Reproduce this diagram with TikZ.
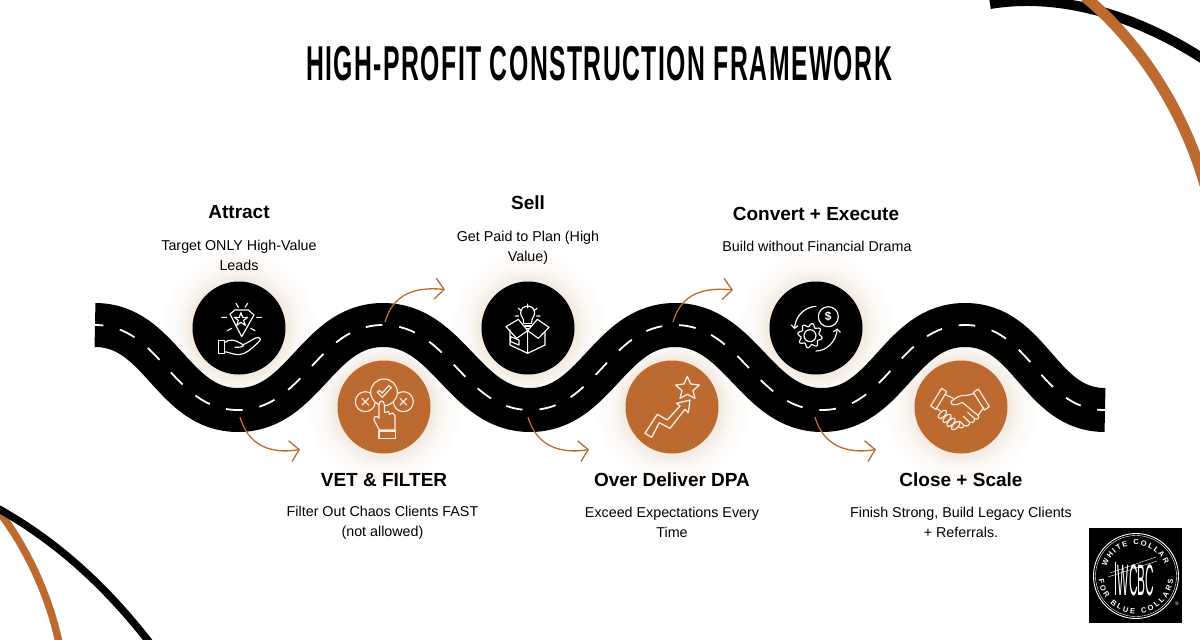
\documentclass[tikz,border=0pt]{standalone}
\usepackage{fontspec}
\setmainfont{Liberation Sans}
\newfontfamily\titlefont[FakeStretch=0.505,LetterSpace=3]{Liberation Sans Bold}
\newfontfamily\logofont[FakeStretch=0.27]{Liberation Sans}
\usetikzlibrary{arrows.meta,decorations.text}
\definecolor{copper}{HTML}{BD6A31}
\pgfdeclareradialshading{halo}{\pgfpointorigin}{rgb(0bp)=(0.955,0.915,0.875); rgb(14.5bp)=(0.955,0.915,0.875); rgb(18.5bp)=(0.985,0.97,0.955); rgb(25bp)=(1,1,1); rgb(50bp)=(1,1,1)}
\tikzset{
  x=1pt,y=-1pt,
  roadline/.style={line width=44pt,black},
  laneline/.style={line width=1.8pt,white,dash pattern=on 16.7pt off 17pt,dash phase=8.3pt},
  badge/.style={circle,minimum size=93pt,inner sep=0pt,fill=#1},
  bendarrow/.style={draw=copper,line width=1.3pt,-{Straight Barb[length=9pt,width=21pt,line width=1.3pt]}},
  ico/.style={draw=white,line width=1.15pt,line join=round,line cap=round},
  icoc/.style={draw=white!88!copper,line width=1.15pt,line join=round,line cap=round},
  headtext/.style={font=\fontsize{19}{20}\selectfont\bfseries,anchor=base},
  bodytext/.style={font=\fontsize{14.3}{20}\selectfont,align=center,anchor=center},
}
\newcommand{\halo}[2]{\shade[shading=halo] (#1,#2) circle (80);}
\begin{document}
\begin{tikzpicture}
\useasboundingbox (0,0) rectangle (1200,640);
\fill[white] (0,0) rectangle (1200,640);
\begin{scope}
\clip (0,0) rectangle (1200,640);
\draw[black,line width=10pt] (990,4) .. controls (1050,-6) and (1125,8) .. (1205,60);
\draw[copper,line width=11pt] (1085,-3) .. controls (1135,38) and (1182,105) .. (1205,185);
\draw[copper,line width=7.5pt] (-4,508) .. controls (22,540) and (48,590) .. (59,643);
\draw[black,line width=7.5pt] (-3,508) .. controls (55,540) and (105,585) .. (150,643);
\end{scope}

% halos
\halo{239}{328}\halo{384}{407}\halo{528}{328}\halo{672}{407}\halo{816}{328}\halo{961}{407}

% road
\def\roadpath{(95,325) .. controls (161,325) and (172,410) .. (238,410)
  .. controls (304,410) and (317,325) .. (383,325)
  .. controls (449,325) and (464,410) .. (530,410)
  .. controls (596,410) and (609,325) .. (675,325)
  .. controls (741,325) and (756,410) .. (822,410)
  .. controls (888,410) and (899,325) .. (965,325)
  .. controls (1031,325) and (1039,410) .. (1105,410)}
\draw[roadline] \roadpath;
\draw[laneline] \roadpath;

% badges
\node[badge=black] (b1) at (239,328) {};
\node[badge=copper] (c1) at (384,407) {};
\node[badge=black] (b2) at (528,328) {};
\node[badge=copper] (c2) at (672,407) {};
\node[badge=black] (b3) at (816,328) {};
\node[badge=copper] (c3) at (961,407) {};

% bends
\coordinate (a1s) at (240,417); \coordinate (a1e) at (300,449.5);
\coordinate (a2s) at (385,322); \coordinate (a2e) at (445,289.5);
\coordinate (a3s) at (528,417); \coordinate (a3e) at (589,449.5);
\coordinate (a4s) at (673,322); \coordinate (a4e) at (733,290);
\coordinate (a5s) at (815,417); \coordinate (a5e) at (876,449.5);
\draw[bendarrow] (a1s) .. controls +(8,28) and +(-30,5) .. (a1e);
\draw[bendarrow] (a2s) .. controls +(8,-28) and +(-30,-3) .. (a2e);
\draw[bendarrow] (a3s) .. controls +(8,28) and +(-30,5) .. (a3e);
\draw[bendarrow] (a4s) .. controls +(8,-28) and +(-30,-3) .. (a4e);
\draw[bendarrow] (a5s) .. controls +(8,28) and +(-30,5) .. (a5e);

% icon: diamond + hand
\begin{scope}[shift={(180,290)},x=0.3333pt,y=-0.3333pt]
\draw[ico] (150,72)--(165,60)--(205,60)--(222,75)--(185,140)--cycle;
\draw[ico] (183,68)--(188,82)--(203,82)--(191,91)--(196,106)--(183,97)--(170,106)--(175,91)--(163,82)--(178,82)--cycle;
\draw[ico] (168,40)--(175,52) (203,40)--(195,52) (125,82)--(140,82) (230,82)--(245,82) (142,122)--(155,115) (212,115)--(225,122);
\draw[ico] (115,152) rectangle (133,190);
\draw[ico] (133,158) .. controls (150,145) and (165,150) .. (182,160) .. controls (195,166) and (195,172) .. (165,172)
 (190,164) .. controls (210,155) and (225,142) .. (235,142) .. controls (243,142) and (243,150) .. (236,156) .. controls (215,175) and (200,192) .. (175,194) .. controls (160,194) and (145,186) .. (133,185);
\end{scope}

% icon: check + hand
\begin{scope}[shift={(350,375)},x=0.3333pt,y=-0.3333pt]
\draw[icoc] (46,80) circle (30) (160,80) circle (30);
\draw[icoc,fill=copper] (102,52) circle (40);
\draw[icoc] (36,70)--(56,90) (56,70)--(36,90) (150,70)--(170,90) (170,70)--(150,90);
\draw[icoc] (82,52)--(97,67)--(124,38)--(116,32)--(97,54)--(88,46)--cycle;
\draw[icoc,fill=copper] (87,90) .. controls (87,74) and (103,74) .. (103,90) -- (103,112) -- (116,110) -- (118,118) -- (128,114) -- (135,122) -- (135,165) -- (88,165) -- (72,135) .. controls (70,122) and (82,122) .. (87,130) -- cycle;
\draw[icoc] (87,168) rectangle (136,190);
\end{scope}

% icon: box + bulb
\begin{scope}[shift={(450,270)},x=0.3333pt,y=-0.3333pt]
\draw[ico] (221,158) .. controls (222,142) and (212,142) .. (212,128) .. controls (212,102) and (254,102) .. (254,128) .. controls (254,142) and (244,142) .. (245,158);
\draw[ico] (221,160)--(245,160) (224,168)--(242,168) (228,175)--(238,175);
\draw[ico] (233,102)--(233,114) (205,115)--(214,122) (261,115)--(252,122) (196,138)--(206,138) (260,138)--(270,138);
\draw[ico,fill=black] (168,170)--(205,148)--(233,182)--(200,205)--cycle;
\draw[ico,fill=black] (297,172)--(262,148)--(233,182)--(265,205)--cycle;
\draw[ico] (180,180)--(180,225)--(233,250)--(233,182) (233,250)--(285,225)--(285,185);
\draw[ico] (182,200)--(207,210)--(207,225)--(182,215)--cycle;
\end{scope}

% icon: arrow + star
\begin{scope}[shift={(450,270)},x=0.3333pt,y=-0.3333pt]
\draw[icoc,line width=1.3pt] (712,319)--(722,342)--(748,345)--(729,362)--(735,385)--(712,373)--(690,385)--(696,362)--(677,345)--(702,342)--cycle;
\draw[icoc,line width=1.3pt] (585,490)--(622,433)--(652,450)--(690,408)--(680,400)--(720,390)--(715,428)--(705,418)--(660,475)--(628,458)--(605,502)--cycle;
\end{scope}

% icon: gear + dollar
\begin{scope}[shift={(780,295)},x=0.3333pt,y=-0.3333pt]
\draw[ico] (145,65) circle (30);
\node[text=white,font=\fontsize{12}{12}\selectfont\bfseries] (dollar) at (145,65) {\$};
\draw[ico] plot[domain=0:360,samples=97,smooth] ({90+(32+5*sin(8*\x))*cos(\x)},{122+(32+5*sin(8*\x))*sin(\x)});
\draw[ico] (90,122) circle (18);
\draw[ico,-{Straight Barb[length=3pt,width=7pt]}] (108,34) .. controls (75,36) and (48,60) .. (43,102);
\draw[ico,-{Straight Barb[length=3pt,width=7pt]}] (108,168) .. controls (140,168) and (168,140) .. (172,100);
\end{scope}

% icon: handshake
\begin{scope}[shift={(925,375)},x=0.3333pt,y=-0.3333pt]
\draw[icoc] (50,40)--(65,50)--(33,103)--(17,93)--cycle;
\draw[icoc] (160,42)--(145,52)--(178,105)--(193,95)--cycle;
\draw[icoc] (60,58)--(84,70);
\draw[icoc] (148,56)--(120,62) .. controls (105,60) and (95,66) .. (78,80) .. controls (76,90) and (90,94) .. (112,82) -- (160,122) .. controls (165,130) and (155,136) .. (148,130) -- (128,112);
\draw[icoc] (176,98)--(160,120);
\draw[icoc] (148,130) .. controls (150,142) and (140,146) .. (134,142) -- (115,124);
\draw[icoc] (134,142) .. controls (134,152) and (124,156) .. (118,152) -- (103,138);
\draw[icoc] (118,152) .. controls (115,160) and (108,160) .. (100,155);
\draw[icoc] (35,100)--(46,108);
\foreach \p in {(52,118),(66,130),(78,142),(92,152)}{
  \draw[icoc,rotate around={45:\p}] \p ellipse (16 and 8);
}
\end{scope}

% texts
\node[font=\titlefont\fontsize{49}{49}\selectfont,anchor=base] (title) at (599,80) {HIGH-PROFIT CONSTRUCTION FRAMEWORK};
\node[headtext] (t1) at (239,218) {Attract};
\node[bodytext] (d1) at (239,255) {Target ONLY High-Value\\Leads};
\node[headtext] (t2) at (528,209) {Sell};
\node[bodytext] (d2) at (528,247.5) {Get Paid to Plan (High\\Value)};
\node[headtext] (t3) at (816,220) {Convert + Execute};
\node[bodytext] (d3) at (817,246) {Build without Financial Drama};
\node[headtext] (t4) at (384,486) {VET \& FILTER};
\node[bodytext] (d4) at (382.5,522.5) {Filter Out Chaos Clients FAST\\(not allowed)};
\node[headtext] (t5) at (672,486) {Over Deliver DPA};
\node[bodytext] (d5) at (672,522.5) {Exceed Expectations Every\\Time};
\node[headtext] (t6) at (961,486) {Close + Scale};
\node[bodytext] (d6) at (961,522.5) {Finish Strong, Build Legacy Clients\\+ Referrals.};

% logo
\fill[black] (1089,528) rectangle (1182,623);
\draw[white,line width=.9pt] (1136,576) circle (42.5);
\draw[white,line width=.4pt] (1136,576) circle (40.5);
\path[decorate,decoration={text along path,text align=fit to path,text={|\fontsize{7.5}{7.5}\selectfont\bfseries\color{white}|WHITE COLLAR}}]
  plot[domain=198:338,samples=60] ({1136+31*cos(\x)},{576+31*sin(\x)});
\path[decorate,decoration={text along path,text align=fit to path,text={|\fontsize{7.5}{7.5}\selectfont\bfseries\color{white}|FOR BLUE COLLARS}}]
  plot[domain=175:5,samples=60] ({1136+37.5*cos(\x)},{576+37.5*sin(\x)});
\node[text=white,font=\logofont\fontsize{44}{44}\selectfont,inner sep=0pt,anchor=base] (wcbc) at (1136,595) {WCBC};
\draw[white,line width=.4pt] (1108,577)--(1157,561) (1110,573)--(1156,557);
\draw[white,line width=.9pt] (1115,562)--(1115,595);
\node[text=white,font=\fontsize{5}{5}\selectfont,inner sep=0pt] (reg) at (1177,604) {®};
\end{tikzpicture}
\end{document}
